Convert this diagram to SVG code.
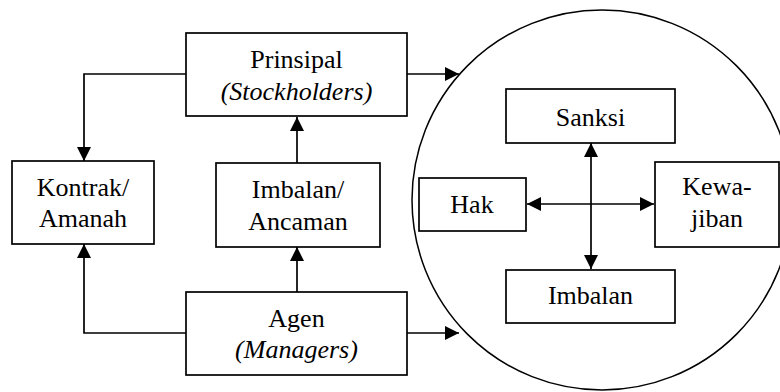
<svg xmlns="http://www.w3.org/2000/svg" width="780" height="392" viewBox="0 0 780 392">
<style>
.box{fill:#fff;stroke:#000;stroke-width:1.7}
.c{fill:none;stroke:#000;stroke-width:1.7}
.t{font-family:"Liberation Serif","Times New Roman",serif;font-size:26px;text-anchor:middle;fill:#000}
.i{font-style:italic}
</style>
<defs>
<marker id="ah" viewBox="0 0 14 14" refX="14" refY="7" markerWidth="14" markerHeight="14" markerUnits="userSpaceOnUse" orient="auto-start-reverse">
<path d="M0,0 L14,7 L0,14 Z" fill="#000"/>
</marker>
</defs>
<rect width="780" height="392" fill="#fff"/>
<circle cx="602" cy="200" r="190" fill="none" stroke="#000" stroke-width="1.5"/>
<g id="connectors">
<path class="c" d="M186,74 H84 V161" marker-end="url(#ah)"/>
<path class="c" d="M297,163 V117" marker-end="url(#ah)"/>
<path class="c" d="M297,292 V247" marker-end="url(#ah)"/>
<path class="c" d="M186,333 H84 V244" marker-end="url(#ah)"/>
<path class="c" d="M407,74 H459" marker-end="url(#ah)"/>
<path class="c" d="M407,333 H459" marker-end="url(#ah)"/>
<path class="c" d="M591,143 V269" marker-start="url(#ah)" marker-end="url(#ah)"/>
<path class="c" d="M527,204 H654" marker-start="url(#ah)" marker-end="url(#ah)"/>
</g>
<g id="prinsipal">
<rect class="box" x="186" y="33" width="221" height="83"/>
<text class="t" x="296.5" y="68">Prinsipal</text>
<text class="t i" x="296.5" y="100">(Stockholders)</text>
</g>
<g id="kontrak">
<rect class="box" x="12" y="161" width="142" height="83"/>
<text class="t" x="83" y="196">Kontrak/</text>
<text class="t" x="83" y="227">Amanah</text>
</g>
<g id="imbalan-ancaman">
<rect class="box" x="216" y="163" width="164" height="84"/>
<text class="t" x="298" y="198">Imbalan/</text>
<text class="t" x="298" y="230">Ancaman</text>
</g>
<g id="agen">
<rect class="box" x="186" y="292" width="221" height="83"/>
<text class="t" x="296.5" y="327">Agen</text>
<text class="t i" x="296.5" y="358">(Managers)</text>
</g>
<g id="sanksi">
<rect class="box" x="506" y="89" width="169" height="54"/>
<text class="t" x="590.5" y="126">Sanksi</text>
</g>
<g id="hak">
<rect class="box" x="419" y="178" width="107" height="53"/>
<text class="t" x="472" y="213">Hak</text>
</g>
<g id="kewajiban">
<rect class="box" x="655" y="162" width="124" height="85"/>
<text class="t" x="717" y="195">Kewa-</text>
<text class="t" x="717" y="227">jiban</text>
</g>
<g id="imbalan">
<rect class="box" x="506" y="270" width="169" height="53"/>
<text class="t" x="590.5" y="304">Imbalan</text>
</g>
</svg>
